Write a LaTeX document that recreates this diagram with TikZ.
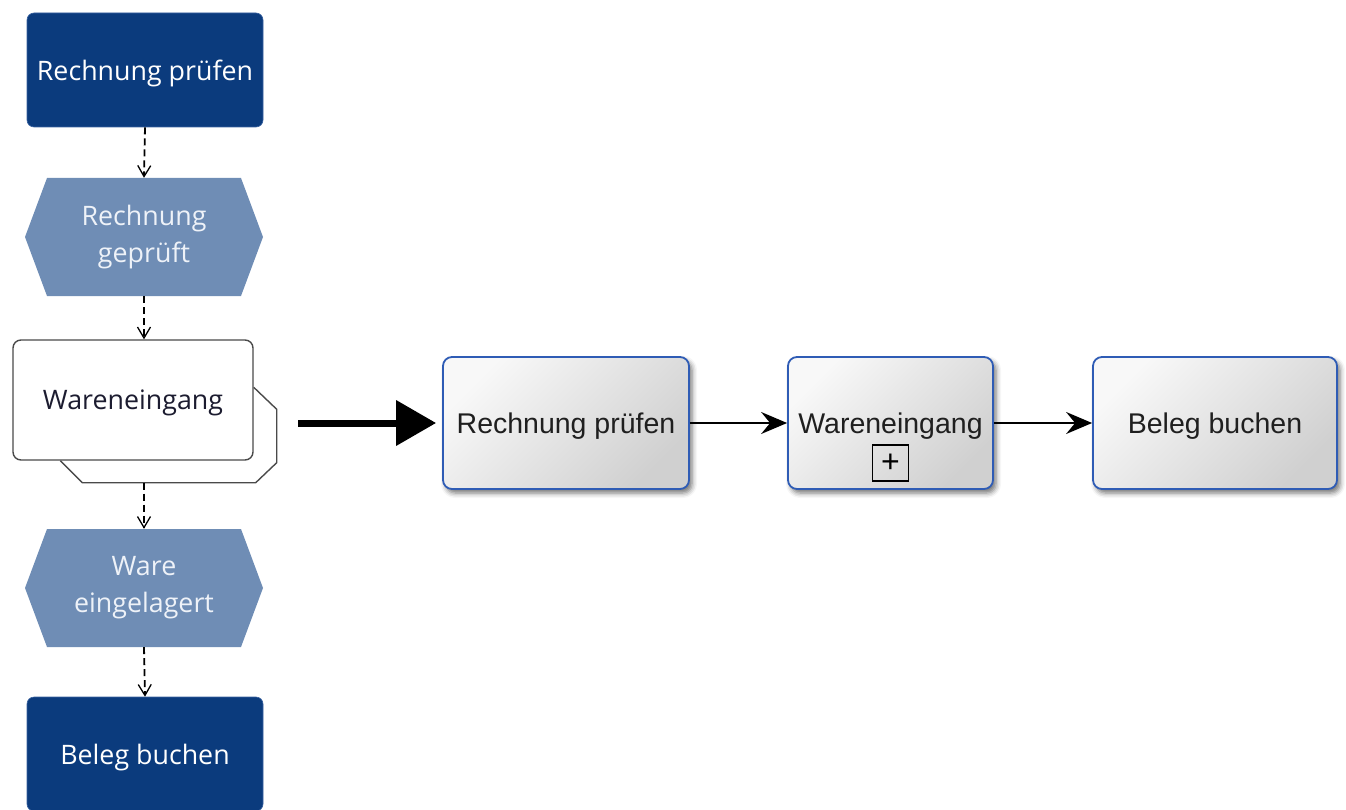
\documentclass[tikz,border=0pt]{standalone}
\usepackage{fontspec}
\setmainfont{Liberation Sans}
\newfontfamily\uifont{Open Sans}
\usetikzlibrary{arrows.meta,shadows.blur,calc}

\definecolor{fndark}{HTML}{0B3B7D}
\definecolor{fnedge}{HTML}{3A62A0}
\definecolor{evblue}{HTML}{6F8DB5}
\definecolor{evtext}{HTML}{EEF2F8}
\definecolor{bpblue}{HTML}{2F5CB5}
\definecolor{bplight}{HTML}{F8F8F8}
\definecolor{bpdark}{HTML}{D0D0D0}
\definecolor{ifline}{HTML}{4A4A4A}
\definecolor{iftext}{HTML}{1C1C30}

\begin{document}
\begin{tikzpicture}[x=1pt,y=-1pt,
  uitext/.style={font=\uifont\fontsize{26.8}{37}\selectfont},
  fnbox/.style={uitext, fill=fndark, draw=fnedge, line width=0.6pt,
    rounded corners=7pt, minimum width=236pt, minimum height=114pt,
    inner sep=0pt, text depth=0pt, text=white},
  evbox/.style={uitext, minimum width=238pt, minimum height=118pt,
    inner sep=0pt, align=center, text=evtext,
    path picture={
      \fill[evblue] (path picture bounding box.west)
        -- ($(path picture bounding box.north west)+(22,0)$)
        -- ($(path picture bounding box.north east)+(-22,0)$)
        -- (path picture bounding box.east)
        -- ($(path picture bounding box.south east)+(-22,0)$)
        -- ($(path picture bounding box.south west)+(22,0)$) -- cycle;
    }},
  ifbox/.style={uitext, fill=white, draw=ifline, line width=1.4pt,
    rounded corners=8pt, minimum width=240pt, minimum height=120pt,
    inner sep=0pt, text depth=0pt, text=iftext},
  ifback/.style={draw=ifline, line width=1.4pt},
  flow/.style={draw, line width=1.8pt, dash pattern=on 7pt off 4pt,
    -{Straight Barb[length=11pt,width=13pt,line width=1.3pt]}},
  procbox/.style={rounded corners=9pt, draw=bpblue, line width=1.8pt,
    top color=bplight, bottom color=bpdark, shading angle=45,
    minimum height=132pt, inner sep=0pt, text depth=0pt,
    font=\fontsize{28.5}{32}\selectfont, text=black!88,
    blur shadow={shadow xshift=3pt, shadow yshift=-4pt,
      shadow blur radius=5pt, shadow opacity=55}},
  link/.style={draw, line width=1.8pt,
    -{Stealth[length=26pt,width=22pt,inset=9pt]}},
  bigarrow/.style={draw, line width=7pt,
    -{Triangle[length=40pt,width=44pt]}, shorten >=6pt}
]
\useasboundingbox (0,0) rectangle (1346,810);

% event-driven chain (left column)
\node[fnbox] (n1) at (145,70) {Rechnung prüfen};
\node[evbox] (e1) at (144,237) {Rechnung\\geprüft};
\node[ifbox] (w)  at (133,400) {Wareneingang};
\node[evbox] (e2) at (144,588) {Ware\\eingelagert};
\node[fnbox] (n2) at (145,754) {Beleg buchen};

% second sheet of the process interface
\draw[ifback] ($(w.north east)+(0,48)$) -- ($(w.north east)+(23,70)$)
  -- ($(w.south east)+(23,2)$) -- ($(w.south east)+(2,22)$)
  -- ($(w.south west)+(70,22)$) -- ($(w.south west)+(48,0)$);
\coordinate (wbot) at ($(w.south west)+(70,22)$);

% control flow
\draw[flow] (n1.south) -- (e1.north);
\draw[flow] (e1.south) -- (e1.south |- w.north);
\draw[flow] (e2.north |- wbot) -- (e2.north);
\draw[flow] (e2.south) -- (n2.north);

% process chain (right)
\node[procbox, minimum width=246pt] (r1) at (566,423) {Rechnung prüfen};
\node[procbox, minimum width=205pt] (r2) at (890.5,423) {Wareneingang};
\node[procbox, minimum width=244pt] (r3) at (1215,423) {Beleg buchen};
\node[draw, line width=1.5pt, minimum size=36pt, inner sep=0pt,
  font=\fontsize{32}{32}\selectfont] (plus) at ($(r2.center)+(0,40)$) {+};

\draw[link] (r1.east) -- (r2.west);
\draw[link] (r2.east) -- (r3.west);

% transformation arrow
\coordinate (bigs) at (298,423);
\draw[bigarrow] (bigs) -- (r1.west);
\end{tikzpicture}
\end{document}
